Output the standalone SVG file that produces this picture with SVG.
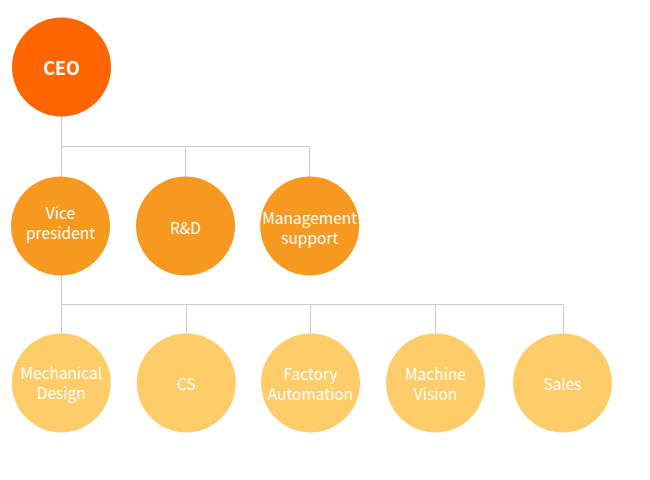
<svg xmlns="http://www.w3.org/2000/svg" width="650" height="480" viewBox="0 0 650 480">
<style>
.l1{fill:#FF6600}
.l2{fill:#F7981F}
.l3{fill:#FECC69}
text{font-family:"Noto Sans CJK KR","Noto Sans",sans-serif;fill:#FFFFFF;text-anchor:middle;font-size:15.5px;font-weight:400}
.ceo{font-size:18px;font-weight:bold}
.conn{fill:none;stroke:#CCCCCC;stroke-width:1}
</style>
<rect width="650" height="480" fill="#FFFFFF"/>
<g id="connectors" class="conn">
<path d="M61.5 116 V146.5 M61.5 146.5 H309.5 M185.5 146.5 V177 M309.5 146.5 V177 M61.5 146.5 V177"/>
<path d="M61.5 275 V304.5 M61.5 304.5 H563.5 M61.5 304.5 V334 M186.5 304.5 V334 M310.5 304.5 V334 M435.5 304.5 V334 M563.5 304.5 V334"/>
</g>
<g id="ceo"><circle class="l1" cx="61.5" cy="67" r="49.5"/><text class="ceo" x="61.5" y="74.5">CEO</text></g>
<g id="vice-president"><circle class="l2" cx="60.5" cy="226" r="49.5"/><text x="60.5" y="218.5">Vice</text><text x="60.5" y="238.5">president</text></g>
<g id="rnd"><circle class="l2" cx="185.5" cy="226" r="49.5"/><text x="185.5" y="233.5">R&amp;D</text></g>
<g id="management-support"><circle class="l2" cx="309.7" cy="226" r="49.5"/><text x="309.7" y="223.5">Management</text><text x="309.7" y="243.5">support</text></g>
<g id="mechanical-design"><circle class="l3" cx="61.3" cy="383" r="49.5"/><text x="61.3" y="378.5">Mechanical</text><text x="61.3" y="398.5">Design</text></g>
<g id="cs"><circle class="l3" cx="186.3" cy="383" r="49.5"/><text x="186.3" y="389.5">CS</text></g>
<g id="factory-automation"><circle class="l3" cx="310.5" cy="383" r="49.5"/><text x="310.5" y="379.5">Factory</text><text x="310.5" y="399.5">Automation</text></g>
<g id="machine-vision"><circle class="l3" cx="435.5" cy="383" r="49.5"/><text x="435.5" y="379.5">Machine</text><text x="435.5" y="399.5">Vision</text></g>
<g id="sales"><circle class="l3" cx="562.5" cy="383" r="49.5"/><text x="562.5" y="389.5">Sales</text></g>
</svg>
